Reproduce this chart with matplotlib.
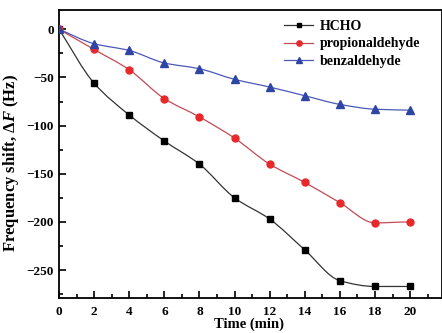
import numpy as np
import matplotlib
matplotlib.use("Agg")
import matplotlib.pyplot as plt
from matplotlib.path import Path
from matplotlib.patches import PathPatch
from matplotlib.ticker import MultipleLocator

plt.rcParams['font.family'] = ['Liberation Serif', 'DejaVu Serif']
plt.rcParams['font.weight'] = 'bold'
plt.rcParams['mathtext.fontset'] = 'custom'
plt.rcParams['mathtext.it'] = 'Liberation Serif:italic:bold'
plt.rcParams['mathtext.rm'] = 'Liberation Serif:bold'

# data
time = [0, 2, 4, 6, 8, 10, 12, 14, 16, 18, 20]
hcho = [0, -56, -89, -116, -140, -175, -197, -229, -261, -267, -267]
propionaldehyde = [0, -21, -42, -72, -91, -113, -140, -159, -180, -201, -200]
benzaldehyde = [0, -15, -22, -35, -41, -52, -60, -69, -78, -83, -84]

series = [
    ("HCHO", hcho, "#000000", "#333333", "s", 4.8),
    ("propionaldehyde", propionaldehyde, "#e8282b", "#c44a55", "o", 5.0),
    ("benzaldehyde", benzaldehyde, "#2f45a3", "#4b58b8", "^", 6.0),
]


def smooth_path(x, y):
    # monotone (pchip-like) bezier connecting the points, drawn by matplotlib
    x = np.asarray(x, float)
    y = np.asarray(y, float)
    h = np.diff(x)
    d = np.diff(y) / h
    m = np.zeros_like(y)
    for i in range(1, len(x) - 1):
        if d[i - 1] * d[i] > 0:
            m[i] = 2.0 / (1.0 / d[i - 1] + 1.0 / d[i])
    m[0] = d[0]
    m[-1] = d[-1] if d[-2] * d[-1] > 0 else 0.0
    verts = [(x[0], y[0])]
    codes = [Path.MOVETO]
    for i in range(len(x) - 1):
        verts += [(x[i] + h[i] / 3, y[i] + m[i] * h[i] / 3),
                  (x[i + 1] - h[i] / 3, y[i + 1] - m[i + 1] * h[i] / 3),
                  (x[i + 1], y[i + 1])]
        codes += [Path.CURVE4] * 3
    return Path(verts, codes)


fig = plt.figure(figsize=(4.42, 3.33), dpi=100)
ax = fig.add_axes([0.1335, 0.105, 0.8665, 0.865])

for name, vals, mcol, lcol, mk, ms in series:
    ax.add_patch(PathPatch(smooth_path(time, vals), fill=False, edgecolor=lcol, lw=0.9))
    ax.plot(time, vals, linestyle='none', marker=mk, color=mcol, markersize=ms, zorder=3)
    ax.plot([], [], color=lcol, lw=0.9, marker=mk, markerfacecolor=mcol,
            markeredgecolor=mcol, markersize=ms - 1.2, label=name)

ax.set_xlim(0, 21.82)
ax.set_ylim(-279, 20)
ax.xaxis.set_major_locator(MultipleLocator(2))
ax.xaxis.set_minor_locator(MultipleLocator(1))
ax.yaxis.set_major_locator(MultipleLocator(50))
ax.yaxis.set_minor_locator(MultipleLocator(25))
ax.tick_params(which='both', direction='in', labelsize=9.5, width=1.2)
ax.tick_params(which='major', length=5)
ax.tick_params(which='minor', length=3)
ax.tick_params(axis='x', pad=6)
for lab in ax.get_xticklabels() + ax.get_yticklabels():
    lab.set_fontweight('bold')
for s in ax.spines.values():
    s.set_linewidth(1.3)

ax.set_xlabel("Time (min)", fontsize=10.5, fontweight='bold')
ax.xaxis.set_label_coords(0.495, -0.066, transform=ax.transAxes)
ax.xaxis.label.set_va('top')
ax.set_ylabel(r"Frequency shift, $\Delta F$ (Hz)", fontsize=12, fontweight='bold')
ax.yaxis.set_label_coords(-0.10, 0.47)

leg = ax.legend(loc='upper left', bbox_to_anchor=(0.555, 1.01), frameon=False,
                fontsize=10, handlelength=2.1, handletextpad=0.5, labelspacing=0.35)
for t in leg.get_texts():
    t.set_fontweight('bold')

fig.savefig("out.png", dpi=100)
